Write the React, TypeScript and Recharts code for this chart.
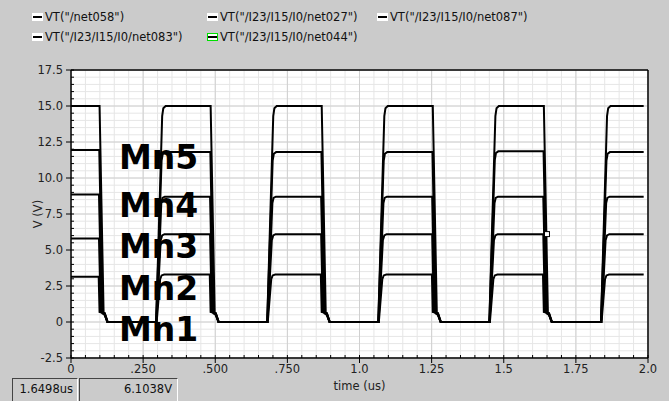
import React from 'react';
import { LineChart, Line, XAxis, YAxis, CartesianGrid, ReferenceDot } from 'recharts';

// ---------- axes ----------
const xMajorTicks = [0, 0.25, 0.5, 0.75, 1.0, 1.25, 1.5, 1.75, 2.0];
const xTickLabels = ['0', '.250', '.500', '.750', '1.0', '1.25', '1.5', '1.75', '2.0'];
const yMajorTicks = [-2.5, 0, 2.5, 5, 7.5, 10, 12.5, 15, 17.5];
const yTickLabels = ['-2.5', '0', '2.5', '5.0', '7.5', '10.0', '12.5', '15.0', '17.5'];
const xMinorTicks = Array.from({ length: 41 }, (_, i) => Math.round(i * 5) / 100);
const yMinorTicks = Array.from({ length: 41 }, (_, i) => -2.5 + i * 0.5);

// ---------- series ----------
const seriesNames = [
  'VT("/net058")',
  'VT("/I23/I15/I0/net027")',
  'VT("/I23/I15/I0/net087")',
  'VT("/I23/I15/I0/net083")',
  'VT("/I23/I15/I0/net044")',
];
const annotations = ['Mn5', 'Mn4', 'Mn3', 'Mn2', 'Mn1'];

// edge times (us)
const fallStart = [0.097, 0.482, 0.867, 1.252, 1.637];
const riseStart = [0.295, 0.68, 1.065, 1.45, 1.837];
const endTime = 1.985;

// plateau levels (V): initial, then after each rising edge
const levels058 = [15.0, 15.0, 15.0, 15.0, 15.0, 15.0];
const levels027 = [11.95, 11.8, 11.8, 11.8, 11.85, 11.8];
const levels087 = [8.85, 8.7, 8.7, 8.7, 8.7, 8.7];
const levels083 = [5.8, 6.1, 6.1, 6.1, 6.1, 6.1];
const levels044 = [3.15, 3.3, 3.3, 3.3, 3.3, 3.3];

// falling edge: delay after fallStart, then [dt, V] vertices
const fallLead = [0.002, 0.001, 0.0, 0.0, -0.001];
const fallTail058 = [[0.014, 0.6], [0.018, 0.5], [0.028, 0]];
const fallTail027 = [[0.011, 0.6], [0.019, 0.5], [0.028, 0]];
const fallTail087 = [[0.009, 0.7], [0.019, 0.6], [0.029, 0]];
const fallTail083 = [[0.006, 0.7], [0.02, 0.6], [0.03, 0]];
const fallTail044 = [[0.003, 0.7], [0.021, 0.6], [0.031, 0]];

// rising edge: [dt after riseStart, fraction of plateau]
const rise058 = [[0, 0], [0.021, 0.953], [0.025, 0.99], [0.033, 1]];
const rise027 = [[0, 0], [0.019, 0.95], [0.023, 0.99], [0.031, 1]];
const rise087 = [[0.001, 0], [0.018, 0.95], [0.022, 0.99], [0.03, 1]];
const rise083 = [[0.001, 0], [0.016, 0.93], [0.021, 0.985], [0.029, 1]];
const rise044 = [[0.002, 0], [0.014, 0.9], [0.019, 0.98], [0.028, 1]];

type Pt = { t: number; v: number };
function buildWave(levels: number[], lead: number, tail: number[][], rise: number[][]): Pt[] {
  const pts: Pt[] = [{ t: 0, v: levels[0] }];
  for (let k = 0; k < fallStart.length; k++) {
    const tf = fallStart[k] + lead;
    pts.push({ t: tf, v: levels[k] });
    for (const [dt, v] of tail) pts.push({ t: tf + dt, v });
    for (const [dt, f] of rise) pts.push({ t: riseStart[k] + dt, v: f * levels[k + 1] });
  }
  pts.push({ t: endTime, v: levels[levels.length - 1] });
  return pts;
}

const waves = [
  buildWave(levels058, fallLead[0], fallTail058, rise058),
  buildWave(levels027, fallLead[1], fallTail027, rise027),
  buildWave(levels087, fallLead[2], fallTail087, rise087),
  buildWave(levels083, fallLead[3], fallTail083, rise083),
  buildWave(levels044, fallLead[4], fallTail044, rise044),
];

const cursorTime = 1.6498;
const cursorValue = 6.1038;

const FONT = '"DejaVu Sans", sans-serif';
const BG = '#cbcbcb';
const FS = 11.5;

const tickStyle = { fontFamily: FONT, fontSize: FS, fill: '#222' };

const legendPos = [
  { x: 32, y: 10 },
  { x: 207, y: 10 },
  { x: 377, y: 10 },
  { x: 32, y: 30 },
  { x: 207, y: 30 },
];

const annotY = [169, 217, 258, 300, 341];

export default function App() {
  return (
    <div style={{ position: 'absolute', left: 0, top: 0, width: 669, height: 401, background: BG, fontFamily: FONT, overflow: 'hidden' }}>
      <LineChart width={669} height={401} margin={{ top: 70, right: 21, bottom: 8, left: 21 }}>
        <CartesianGrid xAxisId="minor" yAxisId="minor" stroke="#e6e6e6" strokeWidth={1} fill="#ffffff" />
        <CartesianGrid stroke="#d0d0d0" strokeWidth={1} />
        <XAxis
          dataKey="t"
          type="number"
          domain={[0, 2]}
          ticks={xMajorTicks}
          tickFormatter={(v: number) => xTickLabels[xMajorTicks.findIndex((t) => Math.abs(t - v) < 1e-6)] ?? ''}
          tick={tickStyle}
          tickSize={5}
          tickMargin={2}
          height={35}
          axisLine={{ stroke: '#000', strokeWidth: 1.5 }}
          tickLine={{ stroke: '#000' }}
          allowDataOverflow
          label={{ value: 'time (us)', position: 'insideBottom', offset: 3, style: { fontFamily: FONT, fontSize: FS, fill: '#222' } }}
        />
        <XAxis
          xAxisId="minor"
          dataKey="t"
          type="number"
          domain={[0, 2]}
          ticks={xMinorTicks}
          mirror
          tickSize={3}
          tickFormatter={() => ''}
          axisLine={false}
          tickLine={{ stroke: '#000' }}
          allowDataOverflow
        />
        <XAxis xAxisId="top" orientation="top" type="number" domain={[0, 2]} mirror tick={false} tickLine={false} axisLine={{ stroke: '#000', strokeWidth: 1.5 }} />
        <YAxis
          type="number"
          domain={[-2.5, 17.5]}
          ticks={yMajorTicks}
          tickFormatter={(v: number) => yTickLabels[yMajorTicks.findIndex((t) => Math.abs(t - v) < 1e-6)] ?? ''}
          tick={tickStyle}
          tickSize={5}
          tickMargin={3}
          width={50}
          axisLine={{ stroke: '#000', strokeWidth: 1.5 }}
          tickLine={{ stroke: '#000' }}
          allowDataOverflow
          label={{
            content: (p: any) => {
              const vb = p.viewBox || { x: 21, y: 70, width: 50, height: 288 };
              const cx = vb.x + 17;
              const cy = vb.y + vb.height / 2;
              return (
                <text x={cx} y={cy} transform={`rotate(-90 ${cx} ${cy})`} textAnchor="middle" dominantBaseline="central" style={{ fontFamily: FONT, fontSize: FS, fill: '#222' }}>
                  V (V)
                </text>
              );
            },
          }}
        />
        <YAxis
          yAxisId="minor"
          type="number"
          domain={[-2.5, 17.5]}
          ticks={yMinorTicks}
          mirror
          tickSize={3}
          tickFormatter={() => ''}
          axisLine={false}
          tickLine={{ stroke: '#000' }}
          allowDataOverflow
        />
        <YAxis yAxisId="right" orientation="right" type="number" domain={[-2.5, 17.5]} mirror tick={false} tickLine={false} axisLine={{ stroke: '#000', strokeWidth: 1.5 }} />
        {waves.map((w, i) => (
          <Line
            key={seriesNames[i]}
            name={seriesNames[i]}
            data={w}
            dataKey="v"
            type="linear"
            stroke="#000"
            strokeWidth={2}
            dot={false}
            activeDot={false}
            isAnimationActive={false}
          />
        ))}
        <ReferenceDot
          x={cursorTime}
          y={cursorValue}
          r={3}
          shape={(p: any) => <rect x={p.cx - 2.5} y={p.cy - 2.5} width={5} height={5} fill="#fff" stroke="#000" strokeWidth={1} />}
        />
      </LineChart>

      {/* legend */}
      {seriesNames.map((n, i) => (
        <div key={n} style={{ position: 'absolute', left: legendPos[i].x, top: legendPos[i].y, height: 14, display: 'flex', alignItems: 'center', fontSize: FS, color: '#111', whiteSpace: 'nowrap' }}>
          <div style={{ width: 11, height: 8, background: '#fff', boxSizing: 'border-box', border: i === 4 ? '1px solid #00e000' : '1px solid #fff', position: 'relative', marginRight: 2 }}>
            <div style={{ position: 'absolute', left: 0, right: 0, top: 2, height: 2, background: '#000' }} />
          </div>
          <span>{n}</span>
        </div>
      ))}

      {/* annotations */}
      <svg width={669} height={401} style={{ position: 'absolute', left: 0, top: 0, pointerEvents: 'none' }}>
        {annotations.map((a, i) => (
          <text key={a} x={119} y={annotY[i]} style={{ fontFamily: FONT, fontWeight: 'bold', fontSize: 33, fill: '#000' }}>
            {a}
          </text>
        ))}
      </svg>

      {/* cursor readout boxes */}
      <div style={{ position: 'absolute', left: 12, top: 378, width: 66, height: 24, boxSizing: 'border-box', borderTop: '1px solid #444', borderLeft: '1px solid #444', borderRight: '1px solid #fff', background: BG, fontSize: FS, color: '#111', textAlign: 'right', paddingRight: 4, lineHeight: '21px' }}>
        {cursorTime.toFixed(4)}us
      </div>
      <div style={{ position: 'absolute', left: 79, top: 378, width: 99, height: 24, boxSizing: 'border-box', borderTop: '1px solid #444', borderLeft: '1px solid #444', borderRight: '1px solid #fff', background: BG, fontSize: FS, color: '#111', textAlign: 'right', paddingRight: 5, lineHeight: '21px' }}>
        {cursorValue.toFixed(4)}V
      </div>
    </div>
  );
}
